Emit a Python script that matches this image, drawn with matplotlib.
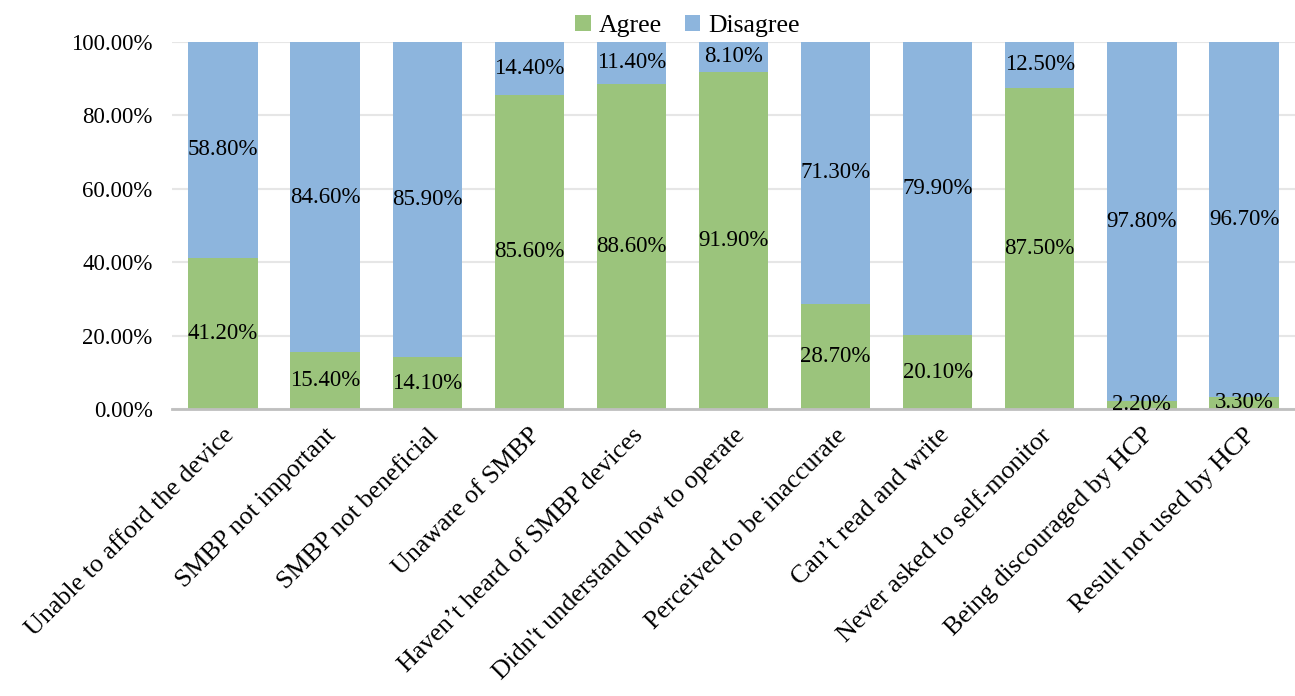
import numpy as np
import matplotlib.pyplot as plt
from matplotlib.ticker import FuncFormatter

categories = ["Unable to afford the device", "SMBP not important", "SMBP not beneficial",
              "Unaware of SMBP", "Haven\u2019t heard of SMBP devices", "Didn't understand how to operate",
              "Perceived to be inaccurate", "Can\u2019t read and write", "Never asked to self-monitor",
              "Being discouraged by HCP", "Result not used by HCP"]
agree = [41.2, 15.4, 14.1, 85.6, 88.6, 91.9, 28.7, 20.1, 87.5, 2.2, 3.3]
disagree = [58.8, 84.6, 85.9, 14.4, 11.4, 8.1, 71.3, 79.9, 12.5, 97.8, 96.7]

plt.rcParams["font.family"] = ["Liberation Serif", "DejaVu Serif"]

fig = plt.figure(figsize=(12.95, 6.96), dpi=100)
ax = fig.add_axes([172 / 1295, 1 - 409 / 696, 1123 / 1295, 367 / 696])

x = np.arange(len(categories))
green = "#9bc47c"
blue = "#8db5dd"
w = 0.68
ax.bar(x, agree, w, color=green, label="Agree", zorder=2)
ax.bar(x, disagree, w, bottom=agree, color=blue, label="Disagree", zorder=2)

# data labels in the middle of each segment
for i in range(len(x)):
    ax.text(x[i], agree[i] / 2, f"{agree[i]:.2f}%", ha="center", va="center", fontsize=16.5, zorder=3)
    ax.text(x[i], agree[i] + disagree[i] / 2, f"{disagree[i]:.2f}%", ha="center", va="center",
            fontsize=16.5, zorder=3)

ax.set_xlim(-0.5, len(x) - 0.5)
ax.set_ylim(0, 100)
ax.set_yticks(np.arange(0, 101, 20))
ax.yaxis.set_major_formatter(FuncFormatter(lambda v, p: f"{v:.2f}%"))
ax.grid(axis="y", color="#e6e6e6", linewidth=1.5, zorder=0)
for s in ["top", "right", "left"]:
    ax.spines[s].set_visible(False)
ax.spines["bottom"].set_color("#bfbfbf")
ax.spines["bottom"].set_linewidth(2)
ax.tick_params(axis="both", length=0)
ax.tick_params(axis="y", pad=14, labelsize=16.5)
ax.set_xticks(x)
ax.set_xticklabels(categories, rotation=45, ha="right", rotation_mode="anchor", fontsize=18.7)
ax.tick_params(axis="x", pad=11)

ax.legend(loc="lower center", bbox_to_anchor=(0.459, 0.985), ncol=2, frameon=False, fontsize=18.5,
          handlelength=0.6, handleheight=0.6, handletextpad=0.3, columnspacing=0.9,
          borderaxespad=0)

fig.savefig("out.png", dpi=100)
